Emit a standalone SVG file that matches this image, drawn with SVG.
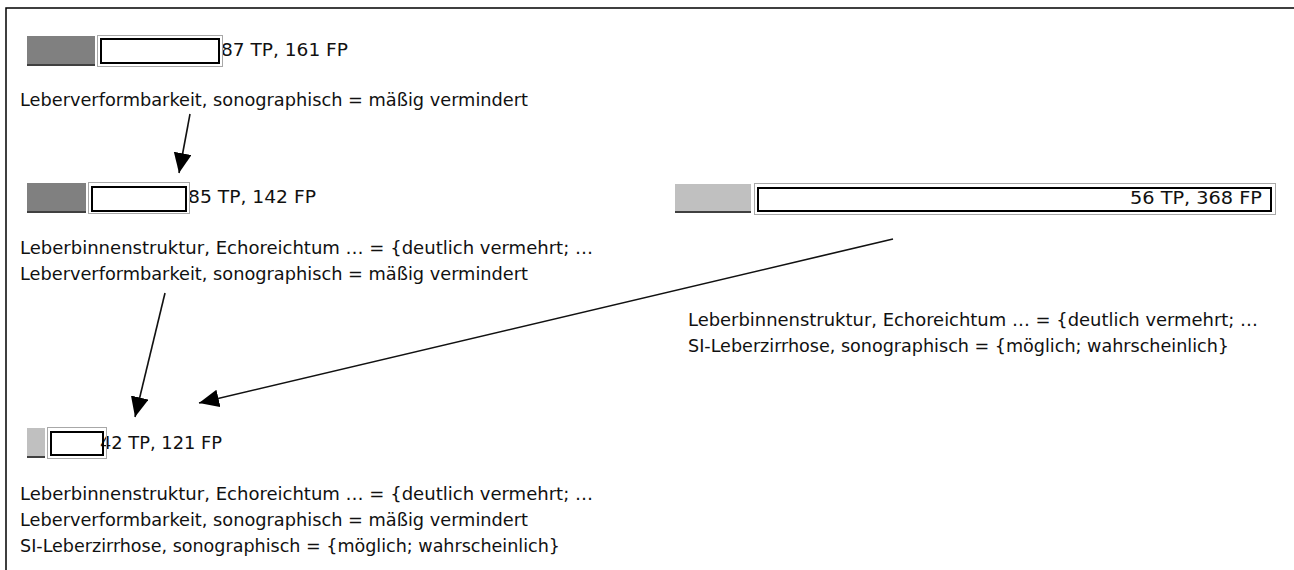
<svg xmlns="http://www.w3.org/2000/svg" width="1294" height="570" viewBox="0 0 1294 570">
<style>
.t{font-family:"DejaVu Sans Condensed","DejaVu Sans","Liberation Sans",sans-serif;font-size:17px;fill:#111}
.g1{fill:#808080}
.g2{fill:#c0c0c0}
.shade{fill:#404040}
.outer{fill:none;stroke:#a8a8a8;stroke-width:1}
.inner{fill:none;stroke:#000;stroke-width:2}
.box{fill:#fff}
.conn{stroke:#111;stroke-width:1.6;fill:none;marker-end:url(#ah)}
</style>
<defs>
<marker id="ah" markerUnits="userSpaceOnUse" markerWidth="22" markerHeight="20" refX="20" refY="9" orient="auto">
<path d="M0,0 L20,9 L0,18 z" fill="#000"/>
</marker>
</defs>
<rect width="1294" height="570" fill="#fff"/>
<path d="M6,570 V8 H1294" fill="none" stroke="#000" stroke-width="1.5"/>

<g id="node1">
<rect class="g1" x="27" y="36" width="68" height="30"/>
<rect class="shade" x="27" y="64" width="68" height="2"/>
<rect class="box" x="100" y="38" width="120" height="26"/>
<text class="t" x="221" y="56" textLength="127" lengthAdjust="spacingAndGlyphs">87 TP, 161 FP</text>
<rect class="outer" x="97.5" y="35.5" width="125" height="31"/>
<rect class="inner" x="101" y="39" width="118" height="24"/>
<text class="t" x="20" y="106" textLength="508" lengthAdjust="spacingAndGlyphs">Leberverformbarkeit, sonographisch = mäßig vermindert</text>
</g>

<g id="node2">
<rect class="g1" x="27" y="183" width="59" height="30"/>
<rect class="shade" x="27" y="211" width="59" height="2"/>
<rect class="box" x="91" y="186" width="96" height="26"/>
<text class="t" x="188" y="203" textLength="128" lengthAdjust="spacingAndGlyphs">85 TP, 142 FP</text>
<rect class="outer" x="88.5" y="182.5" width="101" height="31"/>
<rect class="inner" x="92" y="187" width="94" height="24"/>
<text class="t" x="20" y="254" textLength="573" lengthAdjust="spacingAndGlyphs">Leberbinnenstruktur, Echoreichtum … = {deutlich vermehrt; …</text>
<text class="t" x="20" y="280" textLength="508" lengthAdjust="spacingAndGlyphs">Leberverformbarkeit, sonographisch = mäßig vermindert</text>
</g>

<g id="node3">
<rect class="g2" x="675" y="184" width="76" height="29"/>
<rect class="shade" x="675" y="211" width="76" height="2"/>
<rect class="box" x="757" y="187" width="515" height="25"/>
<text class="t" x="1130" y="204" textLength="132" lengthAdjust="spacingAndGlyphs">56 TP, 368 FP</text>
<rect class="outer" x="754.5" y="183.5" width="521" height="31"/>
<rect class="inner" x="758" y="188" width="513" height="23"/>
<text class="t" x="688" y="326" textLength="570" lengthAdjust="spacingAndGlyphs">Leberbinnenstruktur, Echoreichtum … = {deutlich vermehrt; …</text>
<text class="t" x="688" y="352" textLength="541" lengthAdjust="spacingAndGlyphs">SI-Leberzirrhose, sonographisch = {möglich; wahrscheinlich}</text>
</g>

<g id="node4">
<rect class="g2" x="27" y="428" width="18" height="30"/>
<rect class="shade" x="27" y="456" width="18" height="2"/>
<rect class="box" x="50" y="431" width="54" height="25"/>
<text class="t" x="100" y="449" textLength="122" lengthAdjust="spacingAndGlyphs">42 TP, 121 FP</text>
<rect class="outer" x="47.5" y="427.5" width="59" height="31"/>
<rect class="inner" x="51" y="432" width="52" height="23"/>
<text class="t" x="20" y="500" textLength="573" lengthAdjust="spacingAndGlyphs">Leberbinnenstruktur, Echoreichtum … = {deutlich vermehrt; …</text>
<text class="t" x="20" y="526" textLength="508" lengthAdjust="spacingAndGlyphs">Leberverformbarkeit, sonographisch = mäßig vermindert</text>
<text class="t" x="20" y="552" textLength="540" lengthAdjust="spacingAndGlyphs">SI-Leberzirrhose, sonographisch = {möglich; wahrscheinlich}</text>
</g>

<g id="connectors">
<line class="conn" x1="190" y1="114" x2="179" y2="173"/>
<line class="conn" x1="165" y1="293" x2="135" y2="417"/>
<line class="conn" x1="893" y1="239" x2="199" y2="403"/>
</g>
</svg>
